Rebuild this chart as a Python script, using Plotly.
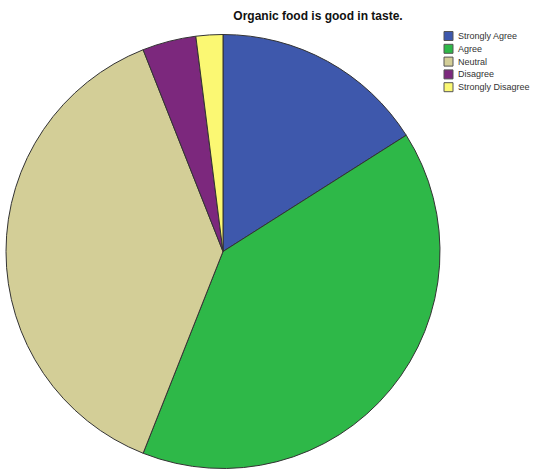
import plotly.graph_objects as go

categories = ["Strongly Agree", "Agree", "Neutral", "Disagree", "Strongly Disagree"]
counts = [8, 20, 19, 2, 1]
colors = ["#3E58AC", "#2EB848", "#D3CE97", "#7C287D", "#FBF873"]
title_text = "Organic food is good in taste."

W, H = 539, 473
cx, cy, r = 223, 251.5, 217

fig = go.Figure(go.Pie(
    labels=categories,
    values=counts,
    sort=False,
    direction="clockwise",
    rotation=0,
    textinfo="none",
    hoverinfo="label+value+percent",
    marker=dict(colors=colors, line=dict(color="#333333", width=1)),
    domain=dict(x=[(cx - r) / W, (cx + r) / W], y=[1 - (cy + r) / H, 1 - (cy - r) / H]),
    showlegend=False,
))

# custom legend (square swatches + labels), built from categories/colors
shapes = []
annotations = []
for i, (cat, col) in enumerate(zip(categories, colors)):
    yc = 36 + 12.8 * i
    shapes.append(dict(type="rect", xref="paper", yref="paper",
                       x0=444 / W, x1=453 / W, y0=1 - (yc + 4.5) / H, y1=1 - (yc - 4.5) / H,
                       fillcolor=col, line=dict(color="#555555", width=1)))
    annotations.append(dict(text=cat, xref="paper", yref="paper", x=456 / W, y=1 - yc / H,
                            xanchor="left", yanchor="middle", showarrow=False,
                            font=dict(family="Arial", size=9, color="#333333")))

fig.update_layout(
    width=W, height=H,
    margin=dict(l=0, r=0, t=0, b=0),
    paper_bgcolor="white",
    plot_bgcolor="white",
    title=dict(text="<b>" + title_text + "</b>", x=318 / W, xanchor="center",
               y=1 - 16 / H, yanchor="middle",
               font=dict(family="Arial", size=12, color="#111111")),
    shapes=shapes,
    annotations=annotations,
    showlegend=False,
)

fig.write_html("out.html",
               config={"displayModeBar": False},
               post_script="document.body.style.margin='0px';document.body.style.overflow='hidden';")
